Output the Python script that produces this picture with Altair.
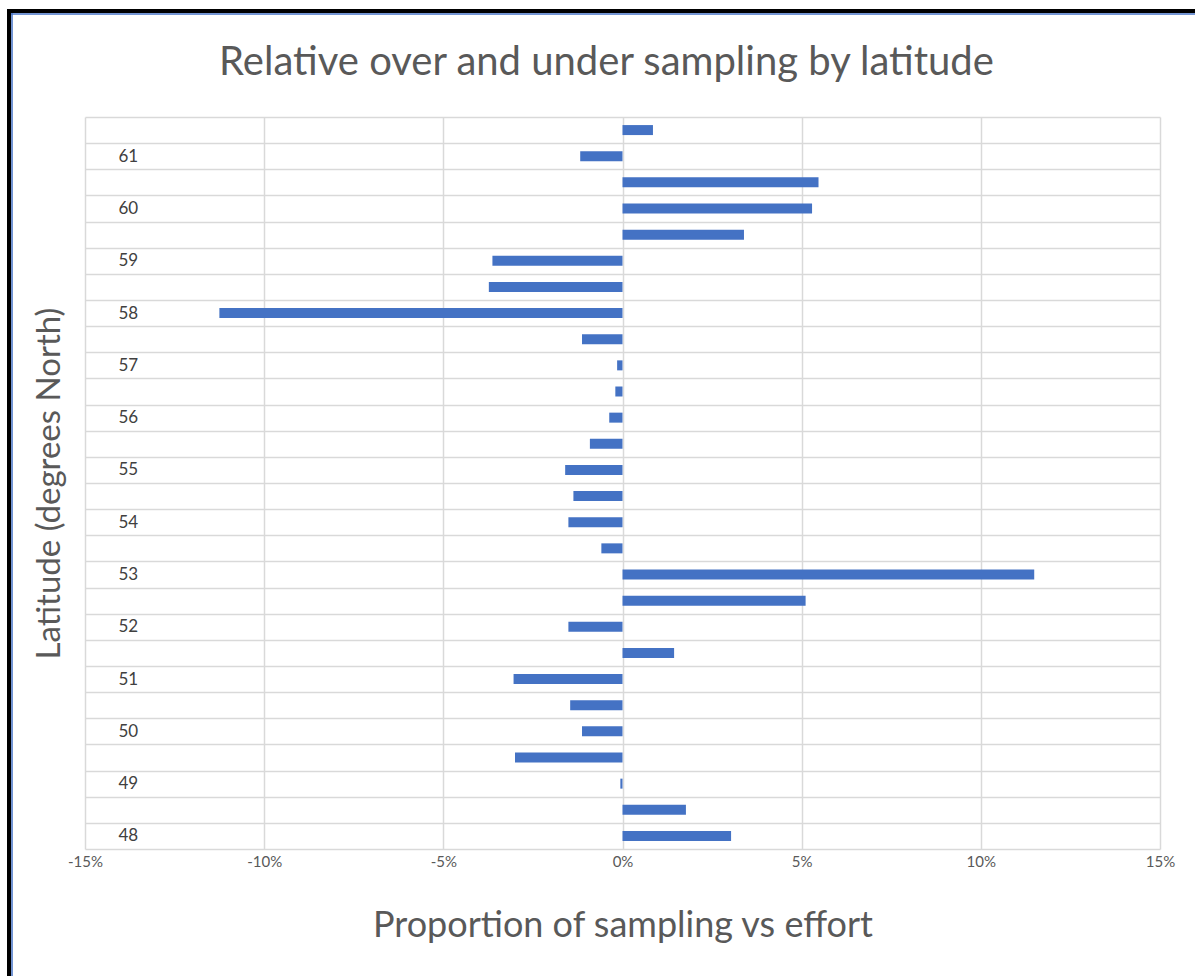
import altair as alt
import pandas as pd

# Latitude bins (degrees North), top to bottom
latitudes = [61.5, 61, 60.5, 60, 59.5, 59, 58.5, 58, 57.5, 57, 56.5, 56, 55.5, 55,
             54.5, 54, 53.5, 53, 52.5, 52, 51.5, 51, 50.5, 50, 49.5, 49, 48.5, 48]
# Relative over/under sampling (percent)
values_pct = [0.85, -1.18, 5.47, 5.29, 3.39, -3.63, -3.73, -11.25, -1.13, -0.15,
              -0.20, -0.37, -0.91, -1.60, -1.37, -1.51, -0.59, 11.49, 5.11, -1.51,
              1.44, -3.04, -1.46, -1.13, -3.00, -0.06, 1.77, 3.03]
x_ticks = [-0.15, -0.10, -0.05, 0.0, 0.05, 0.10, 0.15]

df = pd.DataFrame({"lat": latitudes, "prop": [v / 100 for v in values_pct]})

FONT = "Lato"
GREY = "#595959"
GRID = "#d9d9d9"
W, H = 1075, 732

bars = alt.Chart(df).mark_bar(color="#4472C4", size=10).encode(
    x=alt.X("prop:Q",
            scale=alt.Scale(domain=[-0.15, 0.15], nice=False, zero=False),
            axis=alt.Axis(values=x_ticks, format=".0%", grid=True, gridColor=GRID,
                          gridWidth=1.5, domain=False, ticks=False, labelPadding=5,
                          labelFlush=False,
                          labelExpr="replace(datum.label, '\u2212', '-')",
                          labelFont=FONT, labelFontSize=15, labelColor=GREY,
                          title="Proportion of sampling vs effort", titleFont=FONT,
                          titleFontSize=36, titleFontWeight="normal", titleColor=GREY,
                          titleY=76, titleBaseline="middle")),
    y=alt.Y("lat:O", sort="descending",
            scale=alt.Scale(paddingInner=0, paddingOuter=0),
            axis=alt.Axis(grid=True, gridColor=GRID, gridWidth=1.5, tickBand="extent",
                          domain=False, ticks=False, tickSize=0,
                          labelExpr="datum.value % 1 == 0 ? datum.value : ''",
                          labelAlign="left", labelPadding=-33, labelFont=FONT,
                          labelFontSize=17, labelColor="#404040",
                          title="Latitude (degrees  North)", titleFont=FONT,
                          titleFontSize=33, titleFontWeight="normal", titleColor=GREY,
                          titleX=-36, titleY=H / 2, titleAngle=-90,
                          titleAlign="center", titleBaseline="middle")),
)

frame_src = alt.Data(values=[{"k": 1}])
frame_black_top = alt.Chart(frame_src).mark_rule(color="black", strokeWidth=4).encode(
    x=alt.value(-78), x2=alt.value(1195 - 85), y=alt.value(-106))
frame_black_left = alt.Chart(frame_src).mark_rule(color="black", strokeWidth=4).encode(
    x=alt.value(-76), y=alt.value(-108), y2=alt.value(976 - 117))
frame_blue_top = alt.Chart(frame_src).mark_rule(color="#4472C4", strokeWidth=1.5).encode(
    x=alt.value(-74), x2=alt.value(1195 - 85), y=alt.value(-103))
frame_blue_left = alt.Chart(frame_src).mark_rule(color="#4472C4", strokeWidth=1.5).encode(
    x=alt.value(-73), y=alt.value(-104), y2=alt.value(976 - 117))

chart = alt.layer(bars, frame_black_top, frame_black_left, frame_blue_top,
                  frame_blue_left).properties(
    width=W, height=H,
    autosize=alt.AutoSizeParams(type="none"),
    padding={"left": 85, "top": 117, "right": 35, "bottom": 127},
    background="white",
    title=alt.TitleParams("Relative over and under sampling by latitude", font=FONT,
                          fontSize=40, fontWeight="normal", color=GREY,
                          anchor="middle", frame="group", dx=-16, offset=0, dy=76),
).configure_view(strokeWidth=0)

chart.save("out.html", embed_options={"renderer": "svg", "actions": False})
